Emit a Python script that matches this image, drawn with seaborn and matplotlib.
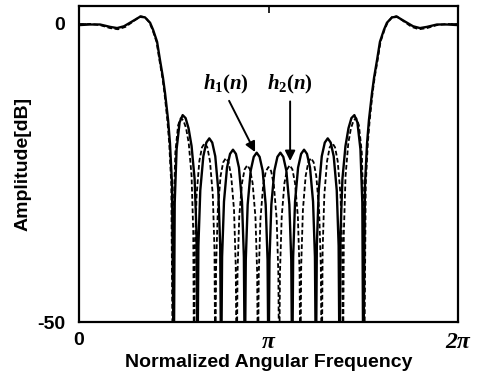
import numpy as np
import pandas as pd
import matplotlib
matplotlib.use("Agg")
import matplotlib.pyplot as plt
import seaborn as sns

# frequency is stored as w/pi (0..2), amplitude in dB; -60 marks a zero (off the axis)

# h1(n), solid curve
h1_pass_left_w = [0.000, 0.058, 0.111, 0.164, 0.201, 0.237, 0.280, 0.322, 0.348, 0.375,
                  0.391, 0.412, 0.427, 0.443, 0.454, 0.470, 0.480, 0.491]
h1_pass_left_db = [-0.2, -0.1, -0.1, -0.5, -0.7, -0.4, 0.4, 1.2, 1.1, 0.2,
                   -1.0, -3.0, -6.0, -9.0, -11.6, -16.1, -20.0, -27.0]

h1_stop_w = [0.500,
             0.505, 0.515, 0.531, 0.547, 0.5625, 0.578, 0.594, 0.610, 0.620, 0.625,
             0.630, 0.640, 0.656, 0.672, 0.6875, 0.703, 0.719, 0.735, 0.745, 0.750,
             0.755, 0.765, 0.781, 0.797, 0.8125, 0.828, 0.844, 0.860, 0.870, 0.875,
             0.880, 0.890, 0.906, 0.922, 0.9375, 0.953, 0.969, 0.985, 0.995, 1.000,
             1.005, 1.015, 1.031, 1.047, 1.0625, 1.078, 1.094, 1.110, 1.120, 1.125,
             1.130, 1.140, 1.156, 1.172, 1.1875, 1.203, 1.219, 1.235, 1.245, 1.250,
             1.255, 1.265, 1.281, 1.297, 1.3125, 1.328, 1.344, 1.360, 1.370, 1.375,
             1.380, 1.390, 1.406, 1.422, 1.4375, 1.453, 1.469, 1.485, 1.495, 1.500]
h1_stop_db = [-60,
              -30.0, -21.0, -16.5, -15.3, -15.8, -17.5, -20.5, -26.0, -35.0, -60,
              -37.2, -27.9, -22.2, -19.9, -19.2, -19.9, -22.2, -27.9, -37.2, -60,
              -39.1, -29.8, -24.1, -21.8, -21.1, -21.8, -24.1, -29.8, -39.1, -60,
              -39.6, -30.3, -24.6, -22.3, -21.6, -22.3, -24.6, -30.3, -39.6, -60,
              -39.6, -30.3, -24.6, -22.3, -21.6, -22.3, -24.6, -30.3, -39.6, -60,
              -39.1, -29.8, -24.1, -21.8, -21.1, -21.8, -24.1, -29.8, -39.1, -60,
              -37.2, -27.9, -22.2, -19.9, -19.2, -19.9, -22.2, -27.9, -37.2, -60,
              -35.0, -26.0, -20.5, -17.5, -15.8, -15.3, -16.5, -21.0, -30.0, -60]

h1_pass_right_w = [1.509, 1.520, 1.530, 1.546, 1.557, 1.573, 1.588, 1.609, 1.625, 1.652,
                   1.678, 1.720, 1.763, 1.799, 1.836, 1.889, 1.942, 2.000]
h1_pass_right_db = [-27.0, -20.0, -16.1, -11.6, -9.0, -6.0, -3.0, -1.0, 0.2, 1.1,
                    1.2, 0.4, -0.4, -0.7, -0.5, -0.1, -0.1, -0.2]

# h2(n), dashed curve
h2_pass_left_w = [0.000, 0.058, 0.111, 0.164, 0.206, 0.245, 0.285, 0.325, 0.350, 0.372,
                  0.388, 0.409, 0.424, 0.440, 0.451, 0.466, 0.476, 0.487]
h2_pass_left_db = [-0.1, 0.0, -0.2, -0.7, -0.9, -0.5, 0.4, 1.3, 1.1, 0.2,
                   -1.0, -3.0, -6.0, -9.0, -11.6, -16.1, -20.0, -27.0]

h2_stop_w = [0.495,
             0.4995, 0.5085, 0.523, 0.537, 0.551, 0.565, 0.579, 0.594, 0.603, 0.607,
             0.6115, 0.6205, 0.635, 0.649, 0.663, 0.677, 0.691, 0.706, 0.715, 0.719,
             0.7235, 0.7325, 0.747, 0.761, 0.775, 0.789, 0.803, 0.818, 0.827, 0.832,
             0.8365, 0.8455, 0.860, 0.874, 0.888, 0.902, 0.916, 0.931, 0.940, 0.944,
             0.9485, 0.9575, 0.972, 0.986, 1.000, 1.014, 1.028, 1.043, 1.052, 1.056,
             1.0605, 1.0695, 1.084, 1.098, 1.112, 1.126, 1.140, 1.155, 1.164, 1.168,
             1.1725, 1.1815, 1.196, 1.210, 1.224, 1.238, 1.252, 1.267, 1.276, 1.281,
             1.2855, 1.2945, 1.309, 1.323, 1.337, 1.351, 1.365, 1.380, 1.389, 1.393,
             1.3975, 1.4065, 1.421, 1.435, 1.449, 1.463, 1.477, 1.492, 1.501, 1.505]
h2_stop_db = [-60,
              -31.0, -21.5, -17.0, -15.8, -16.2, -17.5, -20.0, -25.5, -35.0, -60,
              -38.0, -28.7, -23.0, -20.7, -20.0, -20.7, -23.0, -28.7, -38.0, -60,
              -40.5, -31.2, -25.5, -23.2, -22.5, -23.2, -25.5, -31.2, -40.5, -60,
              -41.7, -32.4, -26.7, -24.4, -23.7, -24.4, -26.7, -32.4, -41.7, -60,
              -42.0, -32.7, -27.0, -24.7, -24.0, -24.7, -27.0, -32.7, -42.0, -60,
              -41.7, -32.4, -26.7, -24.4, -23.7, -24.4, -26.7, -32.4, -41.7, -60,
              -40.5, -31.2, -25.5, -23.2, -22.5, -23.2, -25.5, -31.2, -40.5, -60,
              -38.0, -28.7, -23.0, -20.7, -20.0, -20.7, -23.0, -28.7, -38.0, -60,
              -35.0, -25.5, -20.0, -17.5, -16.2, -15.8, -17.0, -21.5, -31.0, -60]

h2_pass_right_w = [1.513, 1.524, 1.534, 1.549, 1.560, 1.576, 1.591, 1.612, 1.628, 1.650,
                   1.675, 1.715, 1.755, 1.794, 1.836, 1.889, 1.942, 2.000]
h2_pass_right_db = [-27.0, -20.0, -16.1, -11.6, -9.0, -6.0, -3.0, -1.0, 0.2, 1.1,
                    1.3, 0.4, -0.5, -0.9, -0.7, -0.2, 0.0, -0.1]

x_ticks = [0, 1, 2]
x_tick_labels = ["0", "π", "2π"]
y_ticks = [-50, 0]

h1 = pd.DataFrame({"w": h1_pass_left_w + h1_stop_w + h1_pass_right_w,
                   "db": h1_pass_left_db + h1_stop_db + h1_pass_right_db})
h2 = pd.DataFrame({"w": h2_pass_left_w + h2_stop_w + h2_pass_right_w,
                   "db": h2_pass_left_db + h2_stop_db + h2_pass_right_db})

sns.set_theme(style="ticks")
plt.rcParams["font.family"] = ["Liberation Sans", "DejaVu Sans"]
plt.rcParams["text.color"] = "black"
plt.rcParams["axes.labelcolor"] = "black"
plt.rcParams["mathtext.fontset"] = "custom"
plt.rcParams["mathtext.it"] = "Liberation Serif:italic:bold"
plt.rcParams["mathtext.rm"] = "Liberation Serif:bold"
plt.rcParams["mathtext.bf"] = "Liberation Serif:bold"

fig = plt.figure(figsize=(4.78, 3.78), dpi=100)
ax = fig.add_axes([0.1653, 0.1481, 0.7929, 0.836])

sns.lineplot(data=h2, x="w", y="db", ax=ax, color="black", lw=1.3,
             linestyle=(0, (2.6, 1.4)), estimator=None, sort=False)
sns.lineplot(data=h1, x="w", y="db", ax=ax, color="black", lw=1.7,
             estimator=None, sort=False)

ax.set_xlim(0, 2)
ax.set_ylim(-50, 3)
ax.set_xticks(x_ticks)
ax.set_xticklabels(x_tick_labels)
ax.set_yticks(y_ticks)
ax.set_yticklabels([str(v) for v in y_ticks])
ax.tick_params(axis="both", direction="in", length=5, width=1.2, labelsize=14,
               top=True, right=True, colors="black")
ax.tick_params(axis="x", pad=7)
ax.tick_params(axis="y", pad=10)
for lab in ax.get_yticklabels() + ax.get_xticklabels()[:1]:
    lab.set_fontweight("bold")
for lab in ax.get_xticklabels()[1:]:
    lab.set_fontfamily("Liberation Serif")
    lab.set_fontstyle("italic")
    lab.set_fontweight("bold")
    lab.set_fontsize(17)
for s in ax.spines.values():
    s.set_linewidth(1.6)
    s.set_color("black")

ax.set_xlabel("Normalized Angular Frequency", fontsize=14, fontweight="bold", labelpad=1)
ax.set_ylabel("Amplitude[dB]", fontsize=14, fontweight="bold", labelpad=4)

ax.text(0.776, -10.2, r"$h_1(n)$", fontsize=15, ha="center", va="center")
ax.text(1.113, -10.2, r"$h_2(n)$", fontsize=15, ha="center", va="center")
arrow = dict(arrowstyle="-|>", color="black", lw=1.4, mutation_scale=15,
             shrinkA=0, shrinkB=0)
ax.annotate("", xy=(0.929, -21.5), xytext=(0.792, -12.9), arrowprops=arrow)
ax.annotate("", xy=(1.114, -23.0), xytext=(1.114, -13.0), arrowprops=arrow)

fig.savefig("out.png", dpi=100)
